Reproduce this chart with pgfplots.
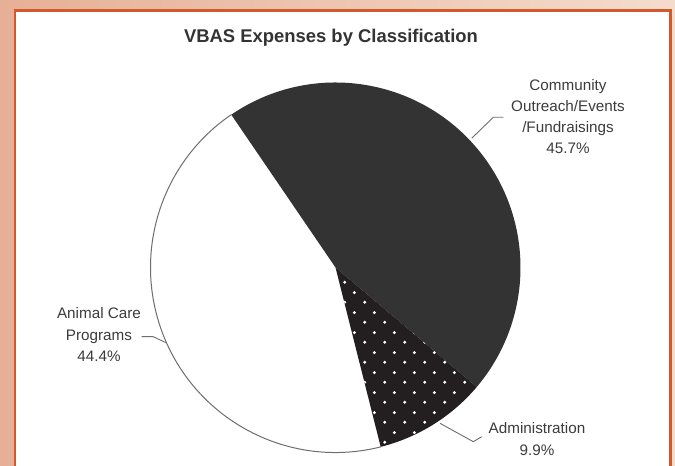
\documentclass[border=0pt]{standalone}
\usepackage{pgfplots}
\usepackage{pgfplotstable}
\pgfplotsset{compat=1.18}
\usepackage{fontspec}
\setmainfont{Liberation Sans}
\usetikzlibrary{patterns.meta}
\definecolor{bgL}{HTML}{E6B096}
\definecolor{bgR}{HTML}{F4DCCD}
\definecolor{frame}{HTML}{D3582B}
\definecolor{cdark}{HTML}{333333}
\definecolor{cadmin}{HTML}{231F20}
\definecolor{lead}{HTML}{6E6E6E}
\definecolor{txt}{HTML}{3C3C3C}
\tikzdeclarepattern{
  name=sparsedots,
  type=uncolored,
  bounding box={(0bp,0bp) and (20bp,20bp)},
  tile size={(20bp,20bp)},
  code={
    \pgfpathcircle{\pgfpoint{5bp}{5bp}}{1.7bp}
    \pgfpathcircle{\pgfpoint{15bp}{15bp}}{1.7bp}
    \pgfusepath{fill}
  }
}
\pgfplotstableread{
label value
Community 45.7
Administration 9.9
Animal 44.4
}\piedata
\pgfkeys{/pgf/number format/.cd, fixed, precision=1, fixed zerofill, assume math mode=true}
\begin{document}
\begin{tikzpicture}
\pgfplotstablegetelem{0}{value}\of\piedata \let\vA\pgfplotsretval
\pgfplotstablegetelem{1}{value}\of\piedata \let\vB\pgfplotsretval
\pgfplotstablegetelem{2}{value}\of\piedata \let\vC\pgfplotsretval
\pgfmathsetmacro{\aS}{124.3}
\pgfmathsetmacro{\aA}{\aS-3.6*\vA}
\pgfmathsetmacro{\aB}{\aA-3.6*\vB}
\pgfmathsetmacro{\aC}{\aB-3.6*\vC}
\begin{axis}[
  scale only axis, width=675bp, height=466bp,
  xmin=0, xmax=675, ymin=0, ymax=466,
  hide axis,
]
% background
\fill[left color=bgL, right color=bgR] (0,0) rectangle (675,466);
\fill[white] (15,0) rectangle (670.5,455.5);
\draw[frame, line width=2.5bp] (15,-3) -- (15,455.5) -- (670.5,455.5) -- (670.5,-3);
% pie
\fill[white] (335.5,198.5) -- ++(\aB:185bp) arc[start angle=\aB, end angle=\aC, radius=185bp] -- cycle;
\draw[lead, line width=1bp] (335.5,198.5) ++(\aB:185bp) arc[start angle=\aB, end angle=\aC, radius=185bp];
\fill[cdark] (335.5,198.5) -- ++(\aS:185bp) arc[start angle=\aS, end angle=\aA, radius=185bp] -- cycle;
\fill[cadmin] (335.5,198.5) -- ++(\aA:185bp) arc[start angle=\aA, end angle=\aB, radius=185bp] -- cycle;
\fill[pattern=sparsedots, pattern color=white] (335.5,198.5) -- ++(\aA:185bp) arc[start angle=\aA, end angle=\aB, radius=185bp] -- cycle;
% leader lines
\draw[lead, line width=0.9bp] (471.7,327.7) -- (493.3,348.7) -- (503.3,348.7);
\draw[lead, line width=0.9bp] (141.7,129.3) -- (153.3,129.3) -- (166.6,123);
\draw[lead, line width=0.9bp] (440,42.7) -- (473.3,24.3) -- (481.7,29.3);
% texts
\node[text=cdark, font=\fontsize{18.5}{22}\selectfont\bfseries] at (331,428) {VBAS Expenses by Classification};
\node[text=txt, align=center, font=\fontsize{15.3}{21}\selectfont] at (568,349.5) {Community\\Outreach/Events\\/Fundraisings\\\pgfmathprintnumber{\vA}\%};
\node[text=txt, align=center, font=\fontsize{15.3}{21.5}\selectfont] at (99,131.3) {Animal Care\\Programs\\\pgfmathprintnumber{\vC}\%};
\node[text=txt, align=center, font=\fontsize{15.3}{21.5}\selectfont] at (537,27) {Administration\\\pgfmathprintnumber{\vB}\%};
\end{axis}
\end{tikzpicture}
\end{document}
